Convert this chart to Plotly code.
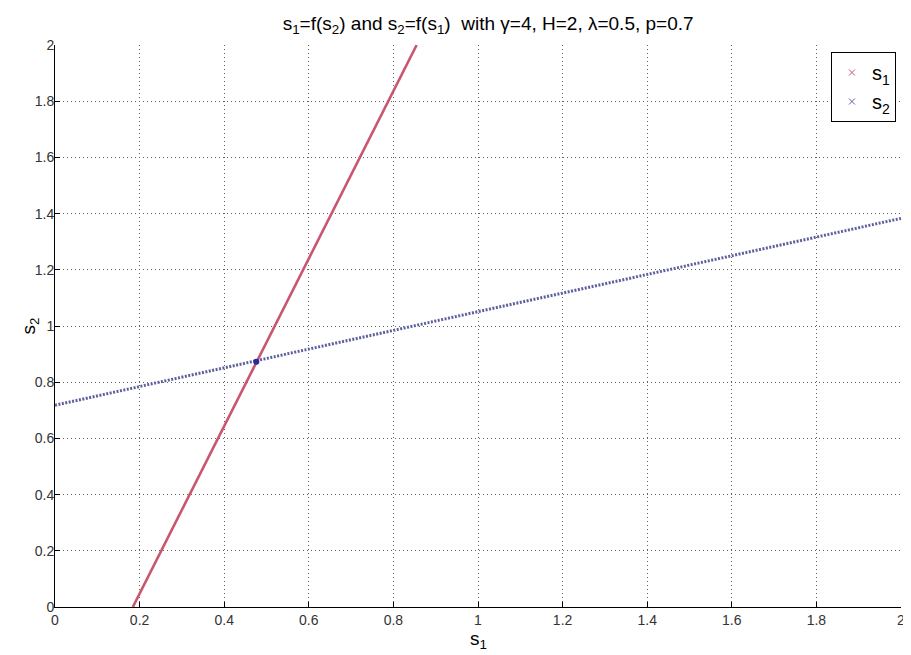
import plotly.graph_objects as go

# values
s2_grid = [0.0, 0.2, 0.4, 0.6, 0.8, 1.0, 1.2, 1.4, 1.6, 1.8, 2.0]
s1_of_s2 = [0.184, 0.251, 0.318, 0.385, 0.452, 0.520, 0.587, 0.654, 0.721, 0.788, 0.855]
s1_grid = [0.0, 0.2, 0.4, 0.6, 0.8, 1.0, 1.2, 1.4, 1.6, 1.8, 2.0]
s2_of_s1 = [0.718, 0.785, 0.851, 0.918, 0.984, 1.051, 1.117, 1.184, 1.250, 1.317, 1.383]
eq_s1 = [0.476]
eq_s2 = [0.873]
tick_vals = [0, 0.2, 0.4, 0.6, 0.8, 1, 1.2, 1.4, 1.6, 1.8, 2]
tick_text = ["0", "0.2", "0.4", "0.6", "0.8", "1", "1.2", "1.4", "1.6", "1.8", "2"]

RED = "#c9566f"
BLUE = "#5f5f9e"
FONT = "Liberation Sans, Arial"

fig = go.Figure()
fig.add_trace(go.Scatter(x=s1_of_s2, y=s2_grid, mode="lines",
                         line=dict(color=RED, width=2.6), showlegend=False, hoverinfo="skip"))
fig.add_trace(go.Scatter(x=s1_grid, y=s2_of_s1, mode="lines",
                         line=dict(color=BLUE, width=3, dash="2px,1.5px"), showlegend=False, hoverinfo="skip"))
fig.add_trace(go.Scatter(x=eq_s1, y=eq_s2, mode="markers",
                         marker=dict(color="#2a2a9a", size=6, symbol="circle"), showlegend=False))
# legend entries
fig.add_trace(go.Scatter(x=[None], y=[None], mode="markers", name="s<sub>1</sub>",
                         marker=dict(symbol="x-thin", size=6, line=dict(color=RED, width=1))))
fig.add_trace(go.Scatter(x=[None], y=[None], mode="markers", name="s<sub>2</sub>",
                         marker=dict(symbol="x-thin", size=6, line=dict(color=BLUE, width=1))))

axis_common = dict(
    tickvals=tick_vals, ticktext=tick_text, range=[0, 2],
    showgrid=True, gridcolor="#606060", griddash="1px,3px", gridwidth=1,
    showline=True, linecolor="black", linewidth=1,
    ticks="inside", ticklen=5, tickcolor="black",
    tickfont=dict(family=FONT, size=14, color="#333333"),
    ticklabeloverflow="allow",
    zeroline=False, mirror=False,
)

# the page body adds an 8px offset, so the figure is sized to fit inside the window
fig.update_layout(
    width=903, height=647,
    margin=dict(l=47, r=6, t=37, b=48),
    paper_bgcolor="white", plot_bgcolor="white",
    title=dict(text="s<sub>1</sub>=f(s<sub>2</sub>) and s<sub>2</sub>=f(s<sub>1</sub>)  with γ=4, H=2, λ=0.5, p=0.7",
               x=0.512, xref="paper", xanchor="center", y=0.977, yref="container", yanchor="middle",
               font=dict(family=FONT, size=19, color="black")),
    xaxis=dict(**axis_common),
    yaxis=dict(**axis_common, ticklabelstandoff=-3),
    legend=dict(x=0.994, y=0.9875, xanchor="right", yanchor="top",
                bgcolor="white", bordercolor="black", borderwidth=1,
                font=dict(family=FONT, size=20, color="black"),
                itemwidth=30),
    showlegend=True,
    annotations=[
        dict(text="s<sub>1</sub>", xref="paper", yref="paper", x=0.5, y=-0.058,
             xanchor="center", yanchor="middle", showarrow=False,
             font=dict(family=FONT, size=19, color="black")),
        dict(text="s<sub>2</sub>", xref="paper", yref="paper", x=-0.03, y=0.5,
             xanchor="center", yanchor="middle", showarrow=False, textangle=-90,
             font=dict(family=FONT, size=19, color="black")),
    ],
)

fig.write_html("out.html")
